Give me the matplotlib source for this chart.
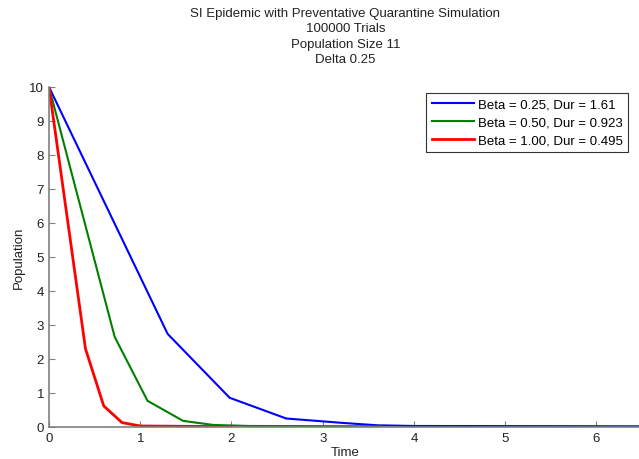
import matplotlib
matplotlib.use("Agg")
import matplotlib.pyplot as plt

plt.rcParams['font.family'] = ['Liberation Sans', 'DejaVu Sans']

title_lines = ["SI Epidemic with Preventative Quarantine Simulation",
               "100000 Trials", "Population Size 11", "Delta 0.25"]

blue_t = [0, 1.3, 1.98, 2.6, 3.22, 3.6, 4.0, 6.5]
blue_y = [10, 2.74, 0.86, 0.25, 0.12, 0.05, 0.03, 0.02]
green_t = [0, 0.72, 1.08, 1.47, 1.8, 2.2, 3.64]
green_y = [10, 2.65, 0.77, 0.18, 0.06, 0.03, 0.02]
red_t = [0, 0.4, 0.6, 0.8, 1.0, 2.0]
red_y = [10, 2.3, 0.62, 0.13, 0.03, 0.01]

labels = ["Beta = 0.25, Dur = 1.61", "Beta = 0.50, Dur = 0.923", "Beta = 1.00, Dur = 0.495"]
colors = ["#0000ff", "#008000", "#ff0000"]

fig = plt.figure(figsize=(6.39, 4.6), dpi=100)
ax = fig.add_axes([49/639, 1 - 428/460, (642 - 49)/639, (428 - 88)/460])

ax.plot(blue_t, blue_y, color=colors[0], lw=1.5, label=labels[0])
ax.plot(green_t, green_y, color=colors[1], lw=1.5, label=labels[1])
ax.plot(red_t, red_y, color=colors[2], lw=2.0, label=labels[2])

ax.set_xlim(0, 6.5)
ax.set_ylim(0, 10)
ax.set_xticks(range(0, 7))
ax.set_yticks(range(0, 11))
ax.spines['top'].set_visible(False)
ax.spines['right'].set_visible(False)
for s in ['left', 'bottom']:
    ax.spines[s].set_color('#808080')
    ax.spines[s].set_linewidth(1.2)
ax.tick_params(direction='in', length=4, colors='#808080', labelcolor='#222222', labelsize=9.5)
ax.set_xlabel("Time", fontsize=9.5, color='#222222')
ax.set_ylabel("Population", fontsize=9.5, color='#222222')
ax.xaxis.set_label_coords((345 - 49) / 593, (428 - 447) / 340)
ax.yaxis.set_label_coords((25 - 49) / 593, 0.5)
ax.set_title("\n".join(title_lines), fontsize=9.5, color='#222222', linespacing=1.38, pad=18)

leg = ax.legend(loc='upper right', bbox_to_anchor=((628 - 49)/593, (428 - 94)/340),
                fontsize=9.5, frameon=True, fancybox=False, handlelength=3.2,
                borderpad=0.4, labelspacing=0.45, handletextpad=0.3, borderaxespad=0)
leg.get_frame().set_edgecolor('black')
leg.get_frame().set_linewidth(0.8)

fig.savefig("out.png", dpi=100)
